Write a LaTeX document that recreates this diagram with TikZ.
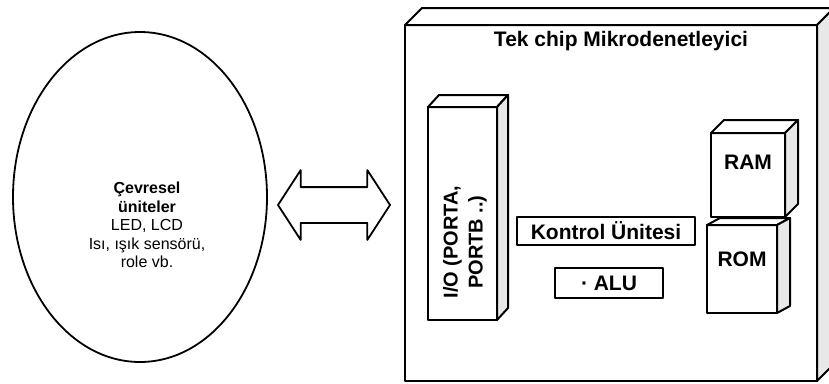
\documentclass[tikz,border=0pt]{standalone}
\usepackage{fontspec}
\setmainfont{Liberation Sans}
\usetikzlibrary{shapes.geometric,shapes.arrows}

\begin{document}
\begin{tikzpicture}[
    x=1pt, y=-1pt,
    line join=round,
    face/.style={
        rectangle, draw=black, fill=white, line width=2pt,
        inner sep=0pt, outer sep=0pt,
        font=\fontsize{21}{24}\selectfont\bfseries
    },
    side/.style={draw=black, fill=gray!18, line width=2pt},
    topside/.style={draw=black, fill=white, line width=2pt},
    unit/.style={
        rectangle, draw=black, line width=1.8pt, inner sep=0pt,
        font=\fontsize{21}{24}\selectfont\bfseries
    },
    periph/.style={
        ellipse, draw=black, line width=1.8pt,
        minimum width=254pt, minimum height=330pt
    },
    link/.style={
        double arrow, draw=black, line width=1.8pt,
        inner sep=17pt, minimum height=112pt,
        double arrow head extend=17pt, double arrow tip angle=114
    }
]
\useasboundingbox (0,0) rectangle (829,383);

% Left: peripheral units
\node[periph] (per) at (140,197) {};
\node[align=center, font=\fontsize{16}{18.5}\selectfont] (pertext) at (147,225) {
    \textbf{Çevresel}\\
    \textbf{üniteler}\\
    LED, LCD\\
    Isı, ışık sensörü,\\
    role vb.
};

% Middle: bus arrow
\node[link] (bus) at (334,205) {};

% Right: microcontroller chip
\node[face, minimum width=412pt, minimum height=356pt] (chip) at (611,203) {};
\node[font=\fontsize{21}{24}\selectfont\bfseries] (title) at (621,41) {Tek chip Mikrodenetleyici};

% I/O port block
\node[face, minimum width=69pt, minimum height=213pt] (io) at (462.5,213.5) {};
\node[rotate=90, align=center, font=\fontsize{20}{25}\selectfont\bfseries] (iotext)
    at ([shift={(2.5,28.5)}]io.center) {I/O (PORTA,\\PORTB ..)};

% Control unit and ALU
\node[unit, minimum width=178pt, minimum height=28pt] (ctrl) at (606,231) {Kontrol Ünitesi};
\node[unit, minimum width=108pt, minimum height=30pt] (alu) at (609,283) {· ALU};

% Memory blocks
\node[face, minimum width=70pt, minimum height=88pt, text depth=19pt] (rom) at (742,269) {ROM};
\node[face, minimum width=74pt, minimum height=84pt, text depth=25pt] (ram) at (748,175) {RAM};

% Depth faces of the boxes
\foreach \n/\dx/\dy in {chip/17/17, io/11/12, rom/13/7, ram/13/13} {
    \draw[topside] (\n.north west) -- ++(\dx,-\dy)
        -- ([shift={(\dx,-\dy)}]\n.north east) -- (\n.north east) -- cycle;
    \draw[side] (\n.north east) -- ++(\dx,-\dy)
        -- ([shift={(\dx,-\dy)}]\n.south east) -- (\n.south east) -- cycle;
}
\end{tikzpicture}
\end{document}
